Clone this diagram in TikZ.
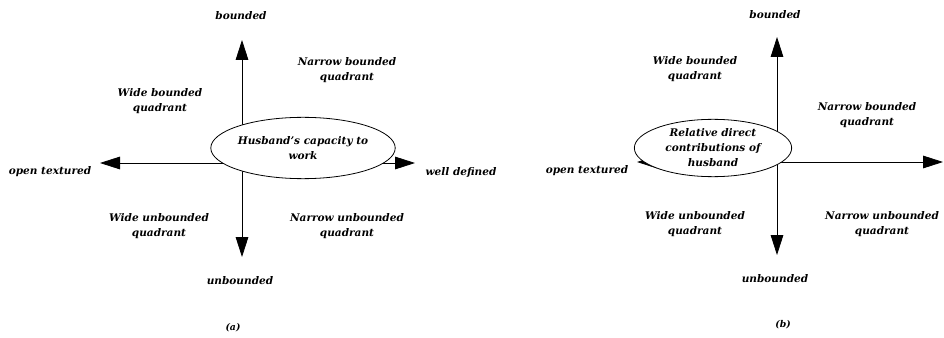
\documentclass[tikz,border=0pt]{standalone}
\usepackage{fontspec}
\setmainfont{DejaVu Serif}
\usetikzlibrary{arrows.meta,shapes.geometric}

\begin{document}
\begin{tikzpicture}[x=0.75pt,y=-0.75pt,
    lbl/.style={font=\fontsize{7.9}{11.25}\selectfont\bfseries\itshape, align=center, inner sep=0pt},
    axis/.style={line width=0.6pt, -{Triangle[length=15pt,width=9.5pt]}},
    bubble/.style={ellipse, draw, fill=white, line width=0.6pt, inner sep=0pt,
        minimum width=118pt, align=center,
        font=\fontsize{7.9}{11.25}\selectfont\bfseries\itshape}]
  \useasboundingbox (0,0) rectangle (944,338);

  % left chart
  \coordinate (oa) at (242,163);
  \coordinate (na) at (242,40);
  \coordinate (sa) at (242,257);
  \coordinate (wa) at (100,163);
  \coordinate (ea) at (415,163);

  \draw[axis] (oa) -- (na);
  \draw[axis] (oa) -- (sa);
  \draw[axis] (oa) -- (wa);
  \draw[axis] (oa) -- (ea);

  \node[bubble, minimum height=46pt] (capa) at (303,148) {Husband's capacity to\\work};

  \node[lbl] (bnda) at (241,16) {bounded};
  \node[lbl] (unba) at (240,281) {unbounded};
  \node[lbl] (opna) at (50,172) {open textured};
  \node[lbl] (wdfa) at (461,172) {well defined};
  \node[lbl] (wbqa) at (160,101) {Wide bounded\\quadrant};
  \node[lbl] (nbqa) at (347,70) {Narrow bounded\\quadrant};
  \node[lbl] (wuqa) at (159,226) {Wide unbounded\\quadrant};
  \node[lbl] (nuqa) at (347,226) {Narrow unbounded\\quadrant};
  \node[lbl, font=\fontsize{7}{9}\selectfont\bfseries\itshape] (capta) at (233,328) {(a)};

  % right chart
  \coordinate (ob) at (777,162);
  \coordinate (nb) at (777,37);
  \coordinate (sb) at (777,255);
  \coordinate (wb) at (637,162);
  \coordinate (eb) at (943,162);

  \draw[axis] (ob) -- (nb);
  \draw[axis] (ob) -- (sb);
  \draw[axis] (ob) -- (wb);
  \draw[axis] (ob) -- (eb);

  \node[bubble, minimum height=43pt] (relb) at (713,148) {Relative direct\\contributions of\\husband};

  \node[lbl] (bndb) at (775,15) {bounded};
  \node[lbl] (unbb) at (775,279) {unbounded};
  \node[lbl] (opnb) at (587,171) {open textured};
  \node[lbl] (wbqb) at (695,69) {Wide bounded\\quadrant};
  \node[lbl] (nbqb) at (867,115) {Narrow bounded\\quadrant};
  \node[lbl] (wuqb) at (695,224) {Wide unbounded\\quadrant};
  \node[lbl] (nuqb) at (882,224) {Narrow unbounded\\quadrant};
  \node[lbl, font=\fontsize{7}{9}\selectfont\bfseries\itshape] (captb) at (783,325) {(b)};
\end{tikzpicture}
\end{document}
